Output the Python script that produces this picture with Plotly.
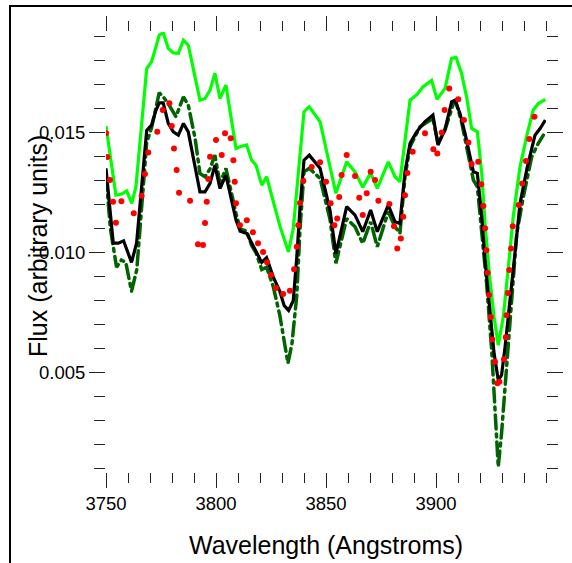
import plotly.graph_objects as go

# ---- data ----
green_x = [3750, 3754.5, 3757.1, 3759.4, 3761.7, 3763.6, 3768.5, 3770.7, 3772.7, 3774.2, 3776, 3778.3,
           3780.6, 3782.9, 3785.2, 3787.4, 3792.7, 3795, 3797.3, 3799.5, 3801.8, 3804.5, 3809.1, 3810.9,
           3813.9, 3816.2, 3818.2, 3820.8, 3823, 3829.1, 3832.9, 3835.1, 3840, 3842.4, 3847.3, 3854.5,
           3859.4, 3863.2, 3866.7, 3870.3, 3873.3, 3878.3, 3881.4, 3883.6, 3888.2, 3891.4, 3893.9, 3898,
           3900.5, 3904.1, 3907.1, 3909.1, 3911.6, 3913.9, 3916.2, 3918.8, 3920.8, 3922.3, 3924.2, 3926.4,
           3928.3, 3930.6, 3932.9, 3935.1, 3938.2, 3941.5, 3944.2, 3946.5, 3949.7]
green_y = [0.01528, 0.01240, 0.01245, 0.01258, 0.01206, 0.01275, 0.01768, 0.01796, 0.01858, 0.01907, 0.01917, 0.01852,
           0.01833, 0.01831, 0.01886, 0.01865, 0.01636, 0.01643, 0.01678, 0.01748, 0.01643, 0.01699, 0.01435, 0.01442,
           0.01449, 0.01386, 0.01365, 0.01282, 0.01317, 0.01110, 0.01004, 0.01100, 0.01588, 0.01608, 0.01546, 0.01248,
           0.01379, 0.01337, 0.01273, 0.01333, 0.01268, 0.01379, 0.01317, 0.01296, 0.01636, 0.01660, 0.01690, 0.01718,
           0.01640, 0.01685, 0.01810, 0.01814, 0.01748, 0.01650, 0.01518, 0.01504, 0.01331, 0.01122, 0.00914, 0.00733,
           0.00615, 0.00733, 0.00942, 0.01150, 0.01358, 0.01498, 0.01595, 0.01622, 0.01639]

black_x = [3750, 3751.5, 3753.3, 3755.6, 3758, 3761.6, 3763.9, 3768.5, 3770.7, 3772.7, 3774.2, 3776, 3778.3,
           3780.6, 3782.9, 3785.2, 3787.4, 3792.7, 3795, 3797.3, 3799.5, 3801.8, 3804.5, 3809.1, 3811, 3814,
           3816.2, 3818.2, 3820.8, 3823, 3826, 3829, 3831, 3833, 3835.1, 3836.7, 3838.2, 3840, 3842.4, 3847.3,
           3851.8, 3854.5, 3859.4, 3863.2, 3866.7, 3870.3, 3873.3, 3878.3, 3881.4, 3883.6, 3885.9, 3888.2,
           3891.2, 3894.9, 3898.6, 3900.9, 3904.1, 3907.1, 3908.6, 3910.9, 3913.2, 3915.5, 3917, 3918.8,
           3920.8, 3922.3, 3924.2, 3926.4, 3928.3, 3929.8, 3931.4, 3933.6, 3935.9, 3938.2, 3941.5, 3945,
           3947.3, 3949.7]
black_y = [0.01352, 0.0122, 0.0104, 0.0104, 0.0105, 0.0096, 0.0104, 0.0151, 0.01532, 0.01594, 0.01625, 0.01625, 0.01539,
           0.01504, 0.0149, 0.01539, 0.01504, 0.01254, 0.01254, 0.01289, 0.01365, 0.01268, 0.01324, 0.01136, 0.0109, 0.0108,
           0.0104, 0.0101, 0.0096, 0.0098, 0.0090, 0.0084, 0.0078, 0.0076, 0.0080, 0.0098, 0.0119, 0.01386, 0.01407, 0.01352,
           0.01178, 0.00996, 0.01192, 0.01157, 0.01088, 0.01178, 0.01088, 0.01199, 0.01129, 0.01122, 0.01337, 0.01456,
           0.01504, 0.01546, 0.01574, 0.01449, 0.01515, 0.01629, 0.01636, 0.01581, 0.01498, 0.01400, 0.01338, 0.01331,
           0.0115, 0.0097, 0.00775, 0.00581, 0.0047, 0.0049, 0.00608, 0.00789, 0.0100, 0.01206, 0.01358, 0.0149,
           0.01518, 0.01553]

dkgreen_x = [3750, 3752, 3754.8, 3757, 3759, 3761.6, 3764, 3766, 3768.5, 3770.7, 3772.7, 3774.2, 3776, 3778.3,
             3781.8, 3785.2, 3787.4, 3790.5, 3792.7, 3795, 3797.3, 3799.5, 3801.8, 3804.5, 3809.1, 3811, 3814,
             3816.2, 3818.2, 3820.8, 3823, 3826, 3829, 3831, 3832.7, 3834.5, 3836.7, 3838.2, 3840, 3842.4, 3847.3,
             3851.8, 3854.5, 3859.4, 3863.2, 3866.7, 3870.3, 3873.3, 3878.3, 3881.4, 3883.6, 3885.9, 3888.2,
             3892.7, 3898.6, 3900.9, 3904.1, 3907.9, 3909, 3911.5, 3914.7, 3917, 3918.8, 3920.8, 3923, 3925.3,
             3926.8, 3928.3, 3929.8, 3932.1, 3934.4, 3936.7, 3939.7, 3943.5, 3946.5, 3948.8]
dkgreen_y = [0.0132, 0.0110, 0.0094, 0.0097, 0.0096, 0.0084, 0.0093, 0.0118, 0.0146, 0.0152, 0.0160, 0.01667, 0.0165, 0.01622,
             0.01567, 0.0165, 0.01615, 0.01477, 0.01331, 0.01317, 0.0135, 0.01407, 0.01289, 0.01352, 0.01164, 0.0110, 0.0109,
             0.0103, 0.0100, 0.0093, 0.0094, 0.0086, 0.0074, 0.0062, 0.0054, 0.0062, 0.0082, 0.0110, 0.01337, 0.01352, 0.0131,
             0.0114, 0.00956, 0.01143, 0.01108, 0.01039, 0.01129, 0.01025, 0.01171, 0.01108, 0.01081, 0.01317, 0.01442,
             0.01525, 0.0156, 0.01456, 0.01511, 0.01622, 0.0163, 0.0155, 0.01414, 0.01303, 0.01275, 0.01081, 0.00873, 0.00595,
             0.00317, 0.00108, 0.00248, 0.00525, 0.00803, 0.01081, 0.01233, 0.0140, 0.01456, 0.0149]

# red series is drawn as dots (one dot per value read)
red_x = [3750.0, 3750.6, 3751.8, 3753.2, 3754.5, 3757.0, 3762.6, 3766.2, 3767.7, 3769.2, 3773.3, 3775.8,
         3778.8, 3779.9, 3780.9, 3782.1, 3783.2, 3788.2, 3791.8, 3794.1, 3795.0, 3795.8, 3796.5, 3797.3,
         3800.0, 3802.6, 3804.1, 3806.7, 3807.9, 3808.5, 3809.1, 3810.9, 3814.0, 3816.8, 3819.1, 3821.4,
         3823.2, 3825.0, 3827.3, 3830.5, 3833.6, 3835.5, 3836.7, 3837.4, 3838.2, 3839.7, 3843.5, 3847.3,
         3850.0, 3852.1, 3853.8, 3855.1, 3856.0, 3857.1, 3859.4, 3863.2, 3865.1, 3866.7, 3868.5, 3870.3,
         3872.3, 3873.8, 3878.8, 3880.9, 3882.4, 3884.0, 3885.1, 3885.9, 3887.0, 3889.4, 3895.0, 3898.8,
         3900.6, 3902.6, 3903.9, 3906.0, 3910.1, 3912.7, 3914.7, 3916.2, 3919.2, 3920.6, 3921.5, 3922.3,
         3922.9, 3923.5, 3924.1, 3924.9, 3925.6, 3926.8, 3927.9, 3928.8, 3930.9, 3931.7, 3932.1, 3932.7,
         3933.3, 3934.1, 3934.9, 3937.6, 3939.2, 3940.9, 3942.4, 3944.7]
red_y = [0.01498, 0.01399, 0.01303, 0.01213, 0.01125, 0.01215, 0.01165, 0.01238, 0.01328, 0.01418, 0.01504, 0.01595,
         0.01623, 0.01528, 0.01435, 0.01345, 0.01250, 0.01217, 0.01036, 0.01032, 0.01124, 0.01213, 0.01307, 0.01400,
         0.01470, 0.01407, 0.01498, 0.01477, 0.01386, 0.01296, 0.01206, 0.01115, 0.01136, 0.01086, 0.01040, 0.01003,
         0.00961, 0.00907, 0.00853, 0.00828, 0.00842, 0.00931, 0.01025, 0.01115, 0.01208, 0.01299, 0.01358, 0.01377,
         0.01296, 0.01206, 0.01115, 0.01143, 0.01233, 0.01324, 0.01407, 0.01320, 0.01229, 0.01157, 0.01248, 0.01338,
         0.01303, 0.01217, 0.01203, 0.01111, 0.01018, 0.01060, 0.01150, 0.01240, 0.01333, 0.01421, 0.01498, 0.01431,
         0.01414, 0.01501, 0.01595, 0.01685, 0.01640, 0.01553, 0.01460, 0.01370, 0.01379, 0.01286, 0.01195, 0.01102,
         0.01011, 0.00917, 0.00824, 0.00733, 0.00639, 0.00546, 0.00457, 0.00463, 0.00556, 0.00648, 0.00740, 0.00833,
         0.00928, 0.01018, 0.01111, 0.01199, 0.01289, 0.01382, 0.01474, 0.01567]

x_tick_vals = [3750, 3800, 3850, 3900]
x_tick_text = ["3750", "3800", "3850", "3900"]
y_tick_vals = [0.005, 0.010, 0.015]
y_tick_text = ["0.005", "0.010", "0.015"]

X_RANGE = [3750, 3950]
Y_RANGE = [0.000867, 0.0192]
FONT = "Liberation Sans, Arial, Helvetica, sans-serif"

fig = go.Figure()
fig.add_trace(go.Scatter(x=green_x, y=green_y, mode="lines", line=dict(color="#00ff00", width=3.2)))
fig.add_trace(go.Scatter(x=dkgreen_x, y=dkgreen_y, mode="lines",
                         line=dict(color="#006400", width=3.5, dash="14px,5px,3px,5px")))
fig.add_trace(go.Scatter(x=black_x, y=black_y, mode="lines", line=dict(color="black", width=3.2)))
fig.add_trace(go.Scatter(x=red_x, y=red_y, mode="markers",
                         marker=dict(color="#ff0000", size=6, line=dict(width=0))))

tick_common = dict(ticks="outside", mirror="ticks", showline=False, showgrid=False, zeroline=False,
                   tickcolor="#222", tickwidth=1)

fig.update_layout(
    width=572, height=563,
    margin=dict(l=106, r=26, t=32, b=91),
    paper_bgcolor="white", plot_bgcolor="white",
    showlegend=False,
    font=dict(family=FONT, color="black", size=18.5),
    xaxis=dict(range=X_RANGE, tickmode="array", tickvals=x_tick_vals, ticktext=x_tick_text,
               ticklen=15, tickfont=dict(size=18.5),
               minor=dict(dtick=10, tick0=3750, ticklen=10, ticks="outside", tickcolor="#222", tickwidth=1),
               **tick_common),
    yaxis=dict(range=Y_RANGE, tickmode="array", tickvals=y_tick_vals, ticktext=y_tick_text,
               ticklen=16, tickfont=dict(size=18.5),
               minor=dict(dtick=0.001, tick0=0, ticklen=11, ticks="outside", tickcolor="#222", tickwidth=1),
               **tick_common),
    xaxis2=dict(range=X_RANGE, overlaying="x", anchor="y", side="bottom", dtick=5, tick0=3750,
                ticklen=5, showticklabels=False, **tick_common),
    yaxis2=dict(range=Y_RANGE, overlaying="y", anchor="x", side="left", dtick=0.0005, tick0=0,
                ticklen=7, showticklabels=False, **tick_common),
    annotations=[
        dict(text="Wavelength (Angstroms)", xref="paper", yref="paper", x=0.5, y=(472 - 545) / 440,
             xanchor="center", yanchor="middle", showarrow=False, font=dict(size=25, family=FONT)),
        dict(text="Flux (arbitrary units)", xref="paper", yref="paper", x=(38 - 106) / 440,
             y=(472 - 246) / 440, xanchor="center", yanchor="middle", textangle=-90,
             showarrow=False, font=dict(size=25, family=FONT)),
    ],
    shapes=[
        dict(type="rect", xref="paper", yref="paper", x0=(10 - 106) / 440, x1=(600 - 106) / 440,
             y0=(472 - 600) / 440, y1=(472 - 6) / 440, line=dict(color="black", width=2),
             fillcolor="rgba(0,0,0,0)", layer="below"),
    ],
)

post = """
document.body.style.margin='0';
var gd=document.getElementById('{plot_id}');
function fixCaps(){
  var tr=gd.querySelectorAll('.scatterlayer .trace');
  if(tr.length>1){tr[1].querySelectorAll('path.js-line').forEach(function(p){p.style.strokeLinecap='round';});}
}
fixCaps();
gd.on('plotly_afterplot', fixCaps);
"""

fig.write_html("out.html", config={"displayModeBar": False}, post_script=post)
